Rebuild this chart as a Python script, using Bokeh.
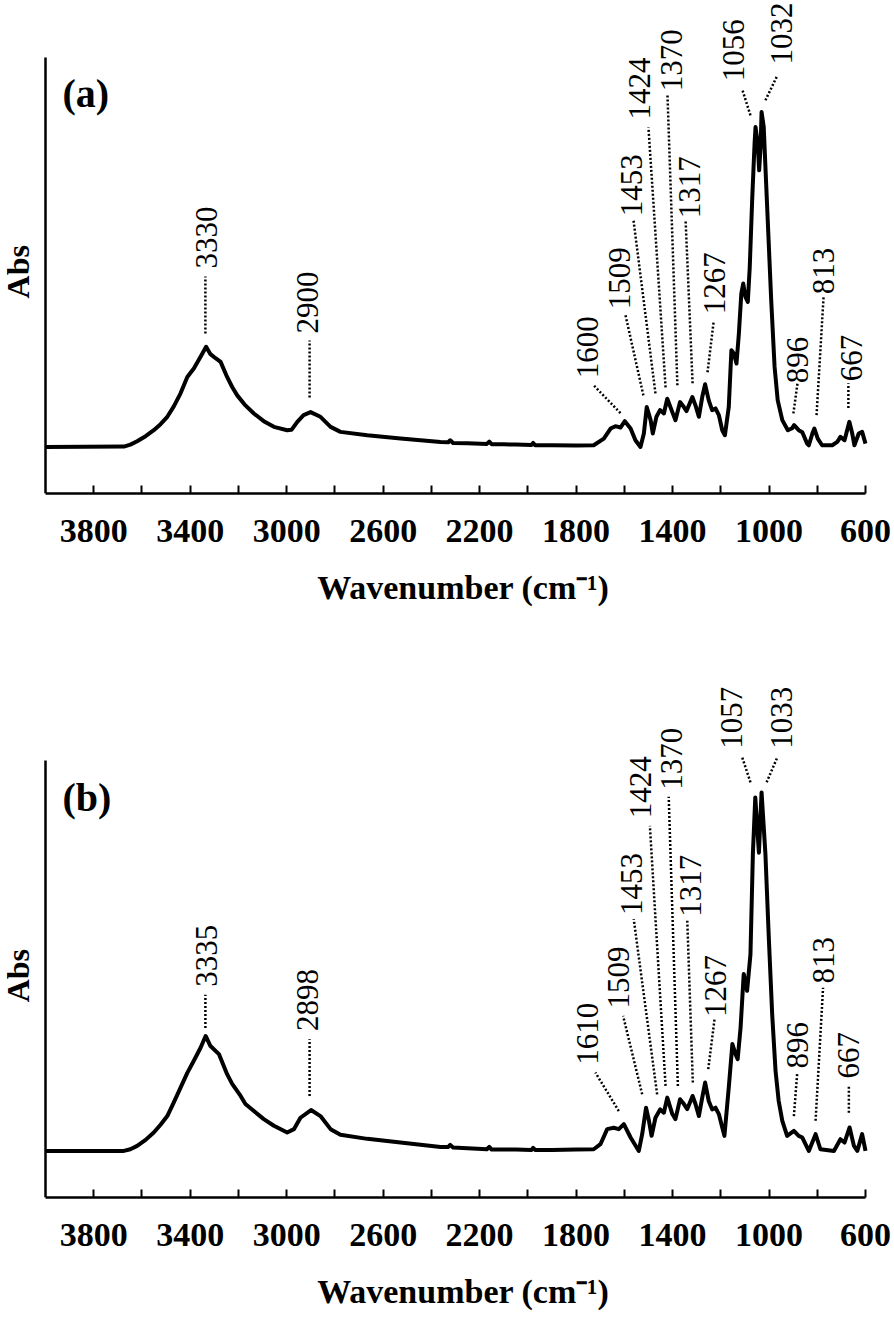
from bokeh.plotting import figure
from bokeh.models import Range1d, FixedTicker, Label
from bokeh.layouts import column
from bokeh.embed import file_html
from bokeh.resources import INLINE

# ---------------- data: panel (a) ----------------
wn_a = [4000, 3675, 3648, 3620, 3585, 3551, 3523, 3495, 3468, 3440, 3412, 3385, 3357, 3334, 3316,
        3295, 3274, 3247, 3226, 3205, 3171, 3136, 3095, 3053, 2998, 2980, 2956, 2930, 2901, 2860,
        2818, 2777, 2666, 2528, 2362, 2330, 2322, 2310, 2250, 2170, 2160, 2150, 2100, 2050, 1985,
        1978, 1970, 1900, 1800, 1727, 1685, 1657, 1637, 1616, 1598, 1574, 1554, 1533, 1519, 1507,
        1491, 1482, 1467, 1452, 1436, 1422, 1401, 1388, 1369, 1353, 1342, 1318, 1305, 1291, 1277,
        1265, 1250, 1236, 1222, 1208, 1194, 1183, 1167, 1156, 1146, 1135, 1125, 1115, 1107, 1098,
        1088, 1080, 1070, 1060, 1056, 1047, 1041, 1035, 1031, 1022, 1015, 1003, 991, 977, 964,
        945, 922, 904, 896, 877, 862, 842, 835, 820, 812, 798, 780, 738, 717, 704,
        687, 667, 655, 646, 628, 614, 600]
abs_a = [0.000, 0.001, 0.007, 0.017, 0.032, 0.050, 0.068, 0.090, 0.121, 0.160, 0.209, 0.234, 0.269, 0.299, 0.277,
         0.265, 0.254, 0.209, 0.179, 0.154, 0.124, 0.100, 0.077, 0.060, 0.050, 0.051, 0.075, 0.095, 0.104, 0.090,
         0.060, 0.045, 0.035, 0.025, 0.015, 0.014, 0.020, 0.012, 0.011, 0.009, 0.016, 0.008, 0.008, 0.007, 0.006,
         0.012, 0.005, 0.005, 0.004, 0.005, 0.025, 0.055, 0.062, 0.058, 0.077, 0.055, 0.020, 0.000, 0.040, 0.119,
         0.080, 0.040, 0.090, 0.110, 0.100, 0.144, 0.104, 0.080, 0.134, 0.119, 0.107, 0.149, 0.124, 0.090, 0.149,
         0.187, 0.139, 0.110, 0.115, 0.095, 0.050, 0.035, 0.119, 0.289, 0.279, 0.249, 0.339, 0.458, 0.488, 0.448,
         0.433, 0.537, 0.736, 0.906, 0.955, 0.906, 0.826, 0.896, 1.000, 0.955, 0.836, 0.637, 0.438, 0.239, 0.139,
         0.080, 0.050, 0.056, 0.065, 0.050, 0.044, 0.010, 0.005, 0.041, 0.055, 0.025, 0.005, 0.005, 0.015, 0.030,
         0.020, 0.075, 0.040, 0.005, 0.040, 0.045, 0.010]

peaks_a = ["3330", "2900", "1600", "1509", "1453", "1424", "1370", "1317", "1267", "1056", "1032", "896", "813", "667"]
lab_x_a = [3332, 2912, 1751, 1620, 1570, 1537, 1404, 1330, 1226, 1149, 948, 880, 776, 660]
lab_y_a = [0.533, 0.339, 0.205, 0.411, 0.689, 0.978, 1.062, 0.683, 0.396, 1.092, 1.142, 0.190, 0.456, 0.196]
ld_x0_a = [3337, 2905, 1616, 1521, 1471, 1429, 1380, 1317, 1255, 1077, 1015, 899, 803, 671]
ld_y0_a = [0.339, 0.148, 0.101, 0.154, 0.160, 0.178, 0.184, 0.190, 0.223, 0.990, 1.035, 0.100, 0.095, 0.116]
ld_x1_a = [3337, 2905, 1727, 1595, 1562, 1500, 1421, 1346, 1230, 1110, 965, 882, 774, 671]
ld_y1_a = [0.509, 0.318, 0.184, 0.393, 0.677, 0.954, 1.050, 0.677, 0.372, 1.065, 1.110, 0.190, 0.447, 0.190]

# ---------------- data: panel (b) ----------------
wn_b = [4000, 3675, 3648, 3620, 3585, 3551, 3523, 3495, 3468, 3440, 3412, 3385, 3357, 3336, 3316,
        3281, 3247, 3226, 3191, 3171, 3136, 3095, 3053, 2998, 2970, 2943, 2899, 2860, 2818, 2777,
        2666, 2528, 2362, 2330, 2322, 2310, 2250, 2170, 2160, 2150, 2100, 2050, 1985, 1978, 1970,
        1900, 1800, 1727, 1699, 1671, 1644, 1623, 1602, 1574, 1540, 1526, 1510, 1498, 1487, 1471,
        1451, 1436, 1422, 1401, 1388, 1369, 1353, 1339, 1317, 1305, 1291, 1277, 1265, 1250, 1236,
        1222, 1208, 1194, 1185, 1167, 1152, 1139, 1130, 1118, 1105, 1091, 1077, 1067, 1057, 1042,
        1031, 1015, 1001, 987, 973, 960, 945, 925, 897, 877, 862, 835, 807, 787, 731,
        704, 687, 666, 648, 634, 614, 600]
abs_b = [0.000, 0.000, 0.005, 0.015, 0.033, 0.055, 0.078, 0.104, 0.145, 0.189, 0.233, 0.269, 0.308, 0.343, 0.313,
         0.289, 0.229, 0.200, 0.164, 0.140, 0.119, 0.095, 0.075, 0.055, 0.065, 0.099, 0.122, 0.104, 0.065, 0.048,
         0.036, 0.025, 0.012, 0.012, 0.018, 0.010, 0.008, 0.005, 0.012, 0.004, 0.004, 0.004, 0.003, 0.009, 0.003,
         0.003, 0.004, 0.005, 0.020, 0.065, 0.069, 0.065, 0.080, 0.040, 0.000, 0.050, 0.129, 0.090, 0.045, 0.099,
         0.124, 0.114, 0.159, 0.110, 0.095, 0.154, 0.140, 0.125, 0.164, 0.140, 0.104, 0.159, 0.204, 0.149, 0.124,
         0.129, 0.110, 0.070, 0.045, 0.189, 0.319, 0.289, 0.274, 0.368, 0.528, 0.478, 0.587, 0.886, 1.055, 0.890,
         1.070, 0.886, 0.637, 0.408, 0.239, 0.149, 0.090, 0.045, 0.060, 0.045, 0.040, 0.000, 0.050, 0.005, 0.000,
         0.035, 0.025, 0.070, 0.015, 0.000, 0.050, 0.000]

peaks_b = ["3335", "2898", "1610", "1509", "1453", "1424", "1370", "1317", "1267", "1057", "1033", "896", "813", "667"]
lab_x_b = [3332, 2912, 1754, 1626, 1570, 1533, 1405, 1326, 1222, 1156, 948, 880, 776, 669]
lab_y_b = [0.490, 0.358, 0.257, 0.425, 0.704, 0.993, 1.078, 0.699, 0.400, 1.200, 1.200, 0.246, 0.500, 0.216]
ld_x0_b = [3337, 2905, 1623, 1526, 1464, 1429, 1378, 1316, 1252, 1077, 1010, 897, 807, 669]
ld_y0_b = [0.367, 0.164, 0.119, 0.169, 0.169, 0.194, 0.194, 0.204, 0.244, 1.100, 1.100, 0.104, 0.090, 0.114]
ld_x1_b = [3337, 2905, 1720, 1605, 1561, 1494, 1416, 1339, 1226, 1111, 966, 883, 776, 669]
ld_y1_b = [0.466, 0.333, 0.234, 0.403, 0.692, 0.970, 1.057, 0.687, 0.393, 1.174, 1.174, 0.234, 0.487, 0.194]

x_major = [3800, 3400, 3000, 2600, 2200, 1800, 1400, 1000, 600]
x_minor = [3600, 3200, 2800, 2400, 2000, 1600, 1200, 800]

SERIF = "Liberation Serif"
X_START, X_END = 4000, 600          # extent of the drawn axes
Y_LOW, Y_AXIS_TOP = -0.139, 1.164   # extent of the drawn y axis
# three no-break spaces nudge the centred axis title right, as in the original
X_TITLE = "\u00a0\u00a0\u00a0Wavenumber (cm\u207b\u00b9)"


def make_panel(wn, ab, txt, lx, ly, x0, y0, x1, y1, tag, frame_h, y_top, border_bottom):
    assert len(wn) == len(ab)
    p = figure(frame_width=888, frame_height=frame_h,
               min_border_left=6, min_border_right=0, min_border_top=0,
               min_border_bottom=border_bottom,
               x_range=Range1d(4161.7, 479.8), y_range=Range1d(Y_LOW, y_top),
               output_backend="svg", toolbar_location=None)
    p.outline_line_color = None
    p.grid.visible = False
    p.background_fill_color = "white"
    p.border_fill_color = "white"

    xa = p.xaxis[0]
    xa.bounds = (X_END, X_START)
    xa.ticker = FixedTicker(ticks=x_major, minor_ticks=x_minor)
    xa.axis_line_width = 2.5
    xa.axis_line_color = "black"
    xa.major_tick_in = 8
    xa.major_tick_out = 0
    xa.minor_tick_in = 8
    xa.minor_tick_out = 0
    xa.major_tick_line_width = 2
    xa.minor_tick_line_width = 2
    xa.major_tick_line_color = "black"
    xa.minor_tick_line_color = "black"
    xa.major_label_text_font = SERIF
    xa.major_label_text_font_style = "bold"
    xa.major_label_text_font_size = "34px"
    xa.major_label_text_color = "black"
    xa.major_label_standoff = 26
    xa.axis_label = X_TITLE
    xa.axis_label_text_font = SERIF
    xa.axis_label_text_font_style = "bold"
    xa.axis_label_text_font_size = "34px"
    xa.axis_label_text_color = "black"
    xa.axis_label_standoff = 24

    ya = p.yaxis[0]
    ya.fixed_location = X_START
    ya.bounds = (Y_LOW, Y_AXIS_TOP)
    ya.ticker = FixedTicker(ticks=[])
    ya.axis_line_width = 2.5
    ya.axis_line_color = "black"
    ya.major_tick_in = 0
    ya.major_tick_out = 0
    ya.minor_tick_in = 0
    ya.minor_tick_out = 0
    ya.major_label_text_font_size = "0px"

    p.line(wn, ab, line_width=4, line_color="black", line_join="round")

    p.segment(x0=x0, y0=y0, x1=x1, y1=y1, line_color="black", line_width=2.5,
              line_dash="2 2")

    for t, x, y in zip(txt, lx, ly):
        p.add_layout(Label(x=x, y=y, text=t, angle=90, angle_units="deg",
                           text_align="left", text_baseline="middle",
                           text_font=SERIF, text_font_size="31px",
                           text_color="black"))

    p.add_layout(Label(x=4114, y=0.523, text="Abs", angle=90, angle_units="deg",
                       text_align="center", text_baseline="middle",
                       text_font=SERIF, text_font_style="bold", text_font_size="32px",
                       text_color="black"))
    p.add_layout(Label(x=3930, y=1.056, text=tag, text_align="left", text_baseline="middle",
                       text_font=SERIF, text_font_style="bold", text_font_size="40px",
                       text_color="black"))
    return p


pa = make_panel(wn_a, abs_a, peaks_a, lab_x_a, lab_y_a, ld_x0_a, ld_y0_a, ld_x1_a, ld_y1_a,
                "(a)", 493, 1.333, 130)
pb = make_panel(wn_b, abs_b, peaks_b, lab_x_b, lab_y_b, ld_x0_b, ld_y0_b, ld_x1_b, ld_y1_b,
                "(b)", 574, 1.574, 124)

layout = column(pa, pb, spacing=0)
open("out.html", "w").write(file_html(layout, INLINE))
